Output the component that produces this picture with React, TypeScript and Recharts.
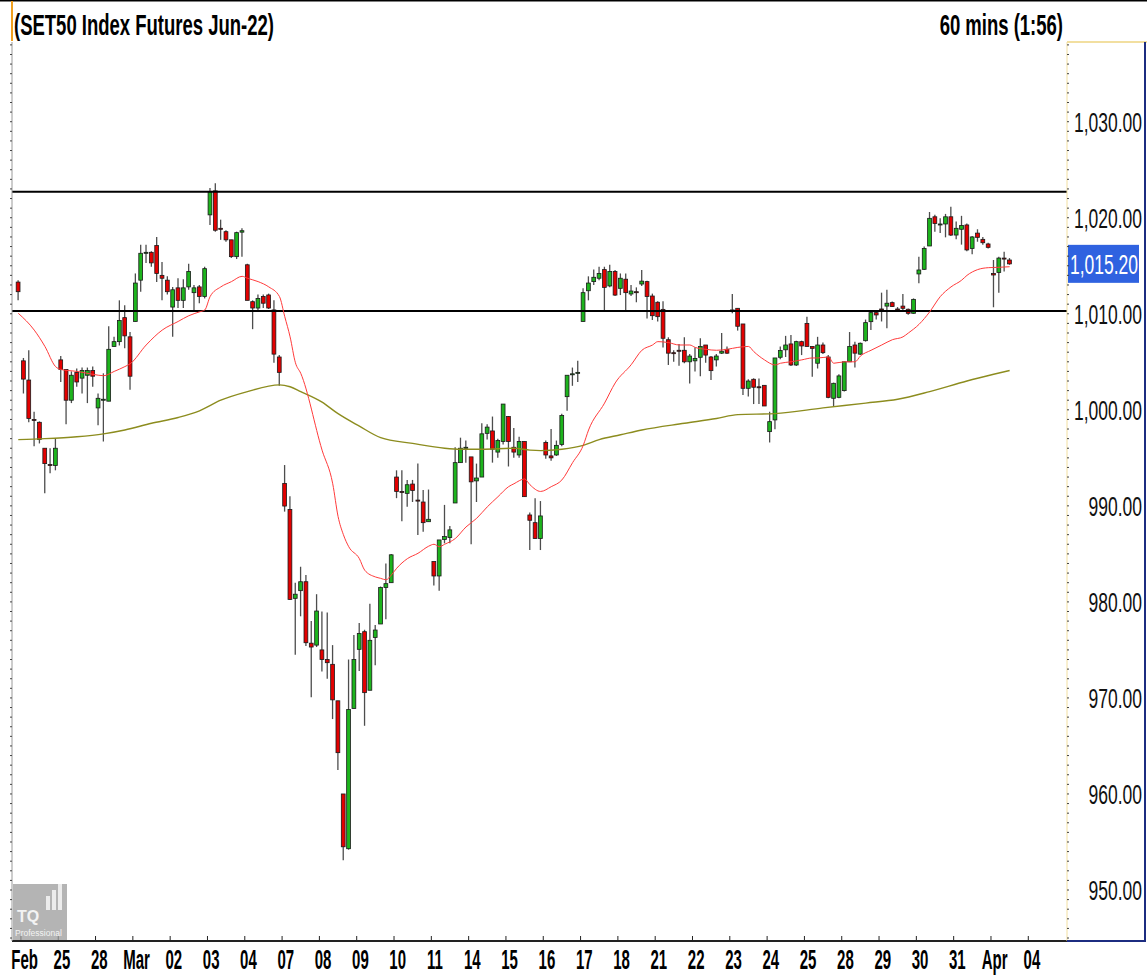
import { Bar, ComposedChart, Line, ReferenceLine, XAxis, YAxis } from "recharts";

const FONT = "'Liberation Sans', Arial, sans-serif";

// one label per trading day, 7 hourly bars per day; slot 0 is the last bar of Feb 23
const dayLabels = ["Feb", "25", "28", "Mar", "02", "03", "04", "07", "08", "09", "10", "11", "14", "15", "16", "17", "18", "21", "22", "23", "24", "25", "28", "29", "30", "31", "Apr", "04"];
const barsPerDay = 7;

const opens = [
  1013.3,
  1005.1, 1003.1, 999.0, 998.7, 996.0, 994.3, 994.2,
  1005.2, 1004.2, 1001.0, 1003.9, 1003.3, 1003.6, 1004.1,
  1000.2, 1001.0, 1000.9, 1006.6, 1007.1, 1009.6, 1007.6,
  1009.2, 1013.5, 1016.3, 1016.4, 1017.1, 1014.0, 1013.5,
  1010.7, 1012.7, 1011.4, 1012.8, 1012.2, 1012.8, 1011.8,
  1020.3, 1022.8, 1018.9, 1018.55, 1017.7, 1015.95, 1018.5,
  1015.1, 1011.26, 1010.6, 1011.8, 1011.96, 1010.4, 1005.5,
  992.34, 989.63, 980.37, 981.17, 982.1, 975.7, 975.5,
  975.0, 974.0, 973.5, 969.7, 960.0, 954.3, 968.9,
  975.06, 976.9, 970.8, 976.3, 977.7, 981.5, 982.0,
  993.0, 991.5, 991.3, 992.27, 990.6, 990.4, 988.35,
  984.2, 982.7, 986.5, 986.7, 990.3, 994.5, 996.0,
  995.1, 992.6, 993.0, 997.55, 997.8, 995.6, 996.7,
  999.3, 996.1, 995.3, 996.7, 989.05, 988.25, 986.6,
  996.6, 995.2, 995.3, 996.4, 1001.37, 1003.65, 1003.8,
  1009.2, 1012.4, 1013.35, 1013.7, 1014.6, 1012.9, 1014.4,
  1012.65, 1013.6, 1012.06, 1012.3, 1013.1, 1013.35, 1011.85,
  1011.2, 1010.46, 1007.3, 1005.95, 1006.2, 1006.2, 1005.0,
  1005.1, 1005.47, 1006.75, 1005.5, 1005.2, 1005.9, 1006.3,
  1010.4, 1010.57, 1008.94, 1002.24, 1003.18, 1002.4, 1002.55,
  997.73, 998.95, 1005.47, 1006.25, 1006.86, 1004.67, 1007.1,
  1009.0, 1006.6, 1004.85, 1006.75, 1005.5, 1001.2, 1001.3,
  1002.0, 1005.0, 1006.75, 1005.8, 1007.2, 1009.18, 1010.12,
  1010.5, 1010.8, 1011.16, 1010.5, 1010.8, 1010.47, 1010.05,
  1014.15, 1014.63, 1017.06, 1020.1, 1019.3, 1019.35, 1020.1,
  1018.2, 1018.8, 1019.25, 1016.8, 1018.4, 1017.75, 1017.27,
  1014.2, 1014.3, 1015.8, 1015.6,
];

const highs = [
  1013.5,
  1005.4, 1006.2, 999.8, 998.8, 996.0, 996.0, 997.0,
  1005.6, 1004.2, 1004.0, 1004.3, 1004.4, 1004.4, 1004.5,
  1001.7, 1003.8, 1008.7, 1007.6, 1011.4, 1010.9, 1008.1,
  1014.2, 1017.2, 1017.2, 1016.5, 1018.0, 1015.4, 1013.9,
  1012.8, 1013.7, 1013.6, 1015.2, 1013.0, 1013.0, 1014.9,
  1023.1, 1023.6, 1019.8, 1018.7, 1017.7, 1018.55, 1018.9,
  1015.2, 1011.4, 1012.0, 1012.0, 1012.1, 1011.4, 1005.7,
  994.25, 991.0, 982.0, 983.66, 982.8, 978.0, 980.8,
  979.0, 978.9, 975.5, 969.7, 960.0, 974.0, 976.55,
  977.8, 977.1, 979.8, 977.6, 981.6, 984.0, 985.0,
  993.7, 993.7, 992.7, 992.7, 994.4, 991.65, 991.7,
  984.2, 986.45, 990.1, 987.9, 996.1, 997.1, 996.8,
  995.1, 994.4, 998.6, 998.5, 999.3, 997.0, 1000.6,
  999.35, 998.1, 997.2, 996.7, 989.3, 990.8, 990.5,
  996.8, 998.0, 996.8, 999.6, 1003.6, 1004.4, 1005.1,
  1012.65, 1013.9, 1014.6, 1014.9, 1014.9, 1015.1, 1014.56,
  1014.2, 1014.2, 1013.0, 1012.75, 1014.56, 1013.45, 1012.1,
  1011.3, 1011.3, 1007.55, 1006.2, 1006.85, 1007.55, 1005.8,
  1006.5, 1007.45, 1006.75, 1005.6, 1005.8, 1008.0, 1006.6,
  1012.06, 1010.57, 1008.94, 1003.18, 1003.28, 1003.25, 1002.55,
  999.8, 1005.4, 1006.6, 1007.7, 1007.8, 1007.2, 1007.2,
  1009.7, 1006.6, 1007.6, 1007.0, 1005.7, 1002.83, 1003.7,
  1005.0, 1008.1, 1007.1, 1007.0, 1009.4, 1010.33, 1010.33,
  1012.2, 1012.5, 1011.27, 1010.7, 1012.06, 1010.54, 1011.6,
  1015.95, 1017.0, 1020.6, 1020.3, 1019.94, 1020.4, 1021.15,
  1019.6, 1020.2, 1019.4, 1018.1, 1018.8, 1018.0, 1017.4,
  1015.6, 1015.95, 1016.47, 1015.8,
];

const lows = [
  1011.4,
  1001.7, 998.7, 996.2, 996.5, 991.3, 993.4, 993.7,
  1002.9, 998.5, 1000.7, 1002.4, 1001.7, 1000.7, 1002.4,
  998.4, 996.7, 1000.9, 1006.6, 1006.7, 1006.4, 1002.1,
  1009.2, 1012.3, 1015.3, 1014.9, 1013.3, 1011.4, 1012.0,
  1007.6, 1010.6, 1010.6, 1012.5, 1010.2, 1011.1, 1011.6,
  1019.25, 1018.55, 1017.7, 1017.5, 1015.8, 1015.7, 1015.95,
  1011.4, 1008.4, 1010.3, 1010.6, 1010.5, 1004.9, 1002.5,
  989.4, 980.2, 974.5, 978.5, 975.4, 970.06, 975.3,
  972.75, 972.0, 967.8, 962.5, 953.1, 954.2, 968.9,
  972.8, 967.1, 970.8, 973.4, 977.7, 978.2, 982.0,
  990.8, 988.4, 989.9, 990.4, 986.96, 987.3, 988.35,
  981.7, 981.15, 986.1, 986.1, 990.3, 994.5, 994.5,
  986.0, 990.4, 993.0, 996.9, 994.5, 995.0, 996.4,
  994.1, 995.0, 995.0, 990.96, 985.4, 986.6, 985.4,
  994.9, 994.7, 995.2, 996.2, 999.9, 1002.5, 1002.9,
  1009.2, 1011.4, 1013.0, 1013.5, 1010.3, 1012.75, 1011.85,
  1011.95, 1010.3, 1011.85, 1011.2, 1012.9, 1009.5, 1009.35,
  1009.2, 1006.5, 1004.67, 1005.0, 1004.6, 1004.84, 1002.75,
  1004.0, 1003.5, 1004.9, 1003.1, 1004.5, 1005.8, 1005.8,
  1010.05, 1008.25, 1001.55, 1001.4, 1000.6, 1000.6, 1000.4,
  996.6, 997.97, 1005.26, 1005.5, 1004.57, 1004.57, 1005.7,
  1006.6, 1003.45, 1004.3, 1005.8, 1001.2, 1000.4, 1001.2,
  1001.9, 1005.0, 1004.4, 1005.7, 1007.1, 1008.3, 1009.4,
  1009.2, 1008.5, 1010.7, 1010.2, 1010.33, 1009.9, 1010.0,
  1013.17, 1014.56, 1017.06, 1018.55, 1018.4, 1017.96, 1018.1,
  1017.75, 1017.2, 1016.5, 1016.2, 1017.5, 1017.2, 1016.8,
  1010.68, 1012.2, 1014.4, 1015.1,
];

const closes = [
  1012.3,
  1003.2, 999.1, 998.9, 996.9, 994.4, 994.2, 996.0,
  1004.2, 1001.0, 1003.6, 1002.9, 1004.1, 1004.1, 1003.5,
  1001.2, 1001.1, 1006.3, 1007.1, 1009.3, 1007.7, 1003.5,
  1013.2, 1016.3, 1016.4, 1015.3, 1014.2, 1013.7, 1012.3,
  1012.5, 1011.4, 1012.7, 1014.4, 1012.7, 1011.8, 1014.7,
  1022.7, 1018.7, 1018.8, 1017.7, 1015.95, 1018.45, 1018.65,
  1011.4, 1010.6, 1011.6, 1011.1, 1010.6, 1005.8, 1003.9,
  989.98, 980.26, 980.8, 982.1, 975.75, 975.3, 979.05,
  974.0, 973.67, 969.8, 964.3, 954.5, 968.8, 974.0,
  976.7, 970.55, 976.0, 977.07, 981.5, 981.9, 984.9,
  991.5, 991.45, 992.2, 991.6, 990.5, 988.25, 988.6,
  982.7, 986.45, 986.8, 987.5, 994.5, 996.0, 996.1,
  992.5, 992.9, 997.5, 998.2, 995.9, 996.8, 1000.6,
  996.7, 995.6, 996.7, 990.96, 988.5, 986.6, 988.95,
  995.3, 995.0, 996.3, 999.4, 1003.6, 1003.75, 1003.9,
  1012.2, 1013.2, 1013.8, 1014.2, 1012.75, 1014.4, 1011.95,
  1013.7, 1012.2, 1012.37, 1012.2, 1013.4, 1011.8, 1009.8,
  1009.7, 1007.45, 1005.9, 1005.85, 1006.1, 1005.0, 1005.6,
  1005.35, 1006.6, 1005.7, 1004.08, 1005.6, 1006.1, 1005.9,
  1010.3, 1008.7, 1002.24, 1003.0, 1002.35, 1002.35, 1000.4,
  998.77, 1005.4, 1006.17, 1006.75, 1004.67, 1007.1, 1006.65,
  1006.6, 1006.4, 1006.75, 1005.95, 1001.3, 1002.76, 1003.53,
  1005.0, 1006.6, 1005.9, 1006.93, 1009.08, 1010.12, 1009.88,
  1010.4, 1011.1, 1010.75, 1010.4, 1010.57, 1010.05, 1011.5,
  1014.56, 1016.8, 1019.94, 1019.4, 1019.35, 1020.1, 1018.2,
  1018.9, 1019.2, 1016.65, 1018.0, 1017.96, 1017.4, 1016.92,
  1014.04, 1015.8, 1015.7, 1015.2,
];

// moving averages: [bar index, value]
const fastAverage: Array<[number, number]> = [
  [0, 1010.05], [3, 1008.3], [5, 1006.6], [7, 1004.5], [8, 1004.2], [11, 1004.0], [14, 1003.7], [16, 1003.55],
  [18, 1004.0], [20, 1004.5], [21, 1004.8], [24, 1006.75], [27, 1008.3], [30, 1009.2], [32, 1009.8], [34, 1010.2],
  [35, 1010.4], [36, 1011.8], [38, 1012.8], [40, 1013.35], [42, 1013.9], [43, 1013.7], [45, 1013.35], [47, 1012.8],
  [49, 1011.8], [50, 1009.7], [51, 1007.6], [52, 1004.9], [53, 1003.8], [57, 995.8], [59, 992.3], [60, 988.9],
  [61, 987.0], [62, 985.75], [64, 984.5], [65, 983.3], [67, 982.6], [68, 982.45], [69, 982.3], [70, 982.8],
  [71, 983.5], [73, 984.5], [75, 985.06], [77, 985.8], [78, 986.0], [79, 985.75], [80, 986.0], [82, 986.6],
  [84, 987.8], [86, 988.7], [88, 989.9], [90, 990.95], [92, 992.0], [93, 992.3], [95, 992.8], [96, 992.2],
  [98, 991.5], [100, 992.0], [102, 992.7], [104, 994.5], [106, 996.3], [107, 997.9], [110, 1000.7], [112, 1002.8],
  [115, 1004.7], [117, 1006.2], [119, 1006.75], [120, 1007.1], [122, 1007.0], [124, 1006.75], [126, 1006.75], [127, 1006.5],
  [129, 1006.3], [131, 1006.2], [133, 1006.3], [135, 1006.5], [137, 1006.6], [138, 1006.06], [140, 1005.2], [142, 1004.67],
  [143, 1004.85], [145, 1005.0], [147, 1005.2], [149, 1005.4], [150, 1005.4], [152, 1005.5], [153, 1004.85], [155, 1005.0],
  [157, 1005.0], [158, 1005.6], [160, 1006.2], [162, 1006.75], [164, 1007.3], [166, 1007.6], [167, 1008.0], [169, 1008.9],
  [171, 1010.2], [173, 1011.8], [175, 1012.8], [177, 1013.5], [178, 1014.0], [180, 1014.6], [182, 1014.8], [184, 1014.84],
  [186, 1014.9],
];

const slowAverage: Array<[number, number]> = [
  [0, 996.9], [5, 997.0], [11, 997.2], [16, 997.5], [20, 997.9], [25, 998.6], [30, 999.2], [34, 999.9],
  [38, 1001.0], [43, 1001.9], [49, 1002.6], [51, 1002.4], [53, 1001.9], [57, 1000.8], [60, 999.6], [64, 998.3],
  [68, 997.1], [74, 996.5], [80, 996.0], [83, 995.9], [87, 995.9], [93, 996.0], [96, 995.8], [98, 995.75],
  [102, 995.9], [106, 996.3], [109, 996.9], [113, 997.4], [117, 997.9], [125, 998.6], [131, 999.1], [135, 999.5],
  [142, 999.6], [151, 1000.2], [159, 1000.7], [165, 1001.1], [171, 1001.9], [178, 1003.0], [183, 1003.7], [186, 1004.1],
];

const resistance = 1022.7;
const support = 1010.3;
const priceDomain: [number, number] = [944.69, 1038.3];
const priceTicks = Array.from({ length: 94 }, (_, i) => 945 + i);
const dayStarts = dayLabels.map((_, d) => 1 + d * barsPerDay);
const totalSlots = 1 + dayLabels.length * barsPerDay;

const fastMap = new Map(fastAverage);
const slowMap = new Map(slowAverage);
const rows = Array.from({ length: totalSlots }, (_, i) => ({
  slot: i,
  open: opens[i] ?? null,
  high: highs[i] ?? null,
  low: lows[i] ?? null,
  close: closes[i] ?? null,
  range: i < opens.length ? [lows[i], highs[i]] : null,
  fast: fastMap.get(i) ?? null,
  slow: slowMap.get(i) ?? null,
}));

function Candle(props: any) {
  const { x, y, width, height, payload } = props;
  if (payload == null || payload.open == null || height == null) return null;
  const { open, close, high, low } = payload;
  const top = Math.min(y, y + height);
  const span = Math.abs(height);
  const k = span / (high - low || 1);
  const cx = x + width / 2;
  const yo = top + (high - open) * k;
  const yc = top + (high - close) * k;
  const bodyTop = Math.min(yo, yc);
  const bodyH = Math.max(Math.abs(yc - yo), 1);
  return (
    <g>
      <line x1={cx} x2={cx} y1={top} y2={top + span} stroke="#4d4d4d" strokeWidth={1.3} />
      <rect x={cx - 1.9} y={bodyTop} width={3.8} height={bodyH} fill={close >= open ? "#1db41d" : "#e30000"} stroke="#1a1a1a" strokeWidth={0.8} />
    </g>
  );
}

function DayTick(props: any) {
  const { x, y, payload } = props;
  const label = dayLabels[(payload.value - 1) / barsPerDay];
  return (
    <g>
      <line x1={x - 2.67} x2={x - 2.67} y1={y - 5} y2={y} stroke="#222" />
      <text transform={`translate(${x + 1},${y + 28}) scale(1,1.8)`} textAnchor="middle" fontFamily={FONT} fontWeight="bold" fontSize={15} fill="#000">
        {label}
      </text>
    </g>
  );
}

function PriceTick(props: any) {
  const { x, y, payload } = props;
  if (payload.value % 10 !== 0) return <g />;
  return (
    <text transform={`translate(${x + 71},${y + 10}) scale(1,1.6)`} textAnchor="end" fontFamily={FONT} fontSize={17.5} fill="#111">
      {payload.value.toLocaleString("en-US", { minimumFractionDigits: 2 })}
    </text>
  );
}

function PriceTag(props: any) {
  const { viewBox } = props;
  if (!viewBox) return null;
  const left = viewBox.x + viewBox.width + 1;
  return (
    <g>
      <rect x={left} y={viewBox.y - 19} width={71} height={38} fill="#2f62e0" />
      <text transform={`translate(${left + 36},${viewBox.y + 10}) scale(1,1.6)`} textAnchor="middle" fontFamily={FONT} fontSize={17.5} fill="#fff">
        {closes[closes.length - 1].toLocaleString("en-US", { minimumFractionDigits: 2 })}
      </text>
    </g>
  );
}

export default function App() {
  return (
    <div style={{ position: "absolute", left: 0, top: 0, width: 1147, height: 980, background: "#fff", overflow: "hidden" }}>
      <ComposedChart width={1147} height={980} data={rows} margin={{ top: 42, right: 0, bottom: 0, left: 0 }} barCategoryGap={0} barGap={0}>
        <XAxis
          dataKey="slot"
          type="category"
          ticks={dayStarts}
          interval={0}
          tick={<DayTick />}
          tickLine={false}
          tickSize={0}
          tickMargin={0}
          axisLine={{ stroke: "#222", strokeWidth: 2 }}
          height={39}
          padding={{ left: 3.6, right: 1.4 }}
        />
        <YAxis
          yAxisId="left"
          orientation="left"
          domain={priceDomain}
          allowDataOverflow
          ticks={priceTicks}
          interval={0}
          width={12}
          tick={<g />}
          tickSize={2}
          tickLine={{ stroke: "#444" }}
          axisLine={{ stroke: "#9a9a9a" }}
        />
        <YAxis
          yAxisId="right"
          orientation="right"
          domain={priceDomain}
          allowDataOverflow
          ticks={priceTicks}
          interval={0}
          width={80}
          tick={<PriceTick />}
          tickSize={2}
          tickMargin={2}
          tickLine={{ stroke: "#444" }}
          axisLine={{ stroke: "#f2dfa0" }}
        />
        <ReferenceLine yAxisId="right" y={resistance} stroke="#000" strokeWidth={2} />
        <ReferenceLine yAxisId="right" y={support} stroke="#000" strokeWidth={2} />
        <Bar yAxisId="right" dataKey="range" shape={<Candle />} isAnimationActive={false} />
        <Line yAxisId="right" dataKey="slow" type="monotone" stroke="#8c8c1e" strokeWidth={1.4} dot={false} activeDot={false} connectNulls isAnimationActive={false} />
        <Line yAxisId="right" dataKey="fast" type="monotone" stroke="#ff3b3b" strokeWidth={1} dot={false} activeDot={false} connectNulls isAnimationActive={false} />
        <ReferenceLine yAxisId="right" y={closes[closes.length - 1]} strokeOpacity={0} label={<PriceTag />} />
      </ComposedChart>
      <svg width={1147} height={980} style={{ position: "absolute", left: 0, top: 0, pointerEvents: "none" }}>
        <line x1={0} x2={1147} y1={0.5} y2={0.5} stroke="#000" strokeWidth={2} />
        <rect x={11} y={1} width={2} height={40} fill="#f0a020" />
        <text transform="translate(14,35) scale(1,1.6)" fontFamily={FONT} fontWeight="bold" fontSize={18.5} fill="#000">
          (SET50 Index Futures Jun-22)
        </text>
        <text transform="translate(1063,35) scale(1,1.6)" textAnchor="end" fontFamily={FONT} fontWeight="bold" fontSize={18.5} fill="#000">
          60 mins (1:56)
        </text>
        <line x1={1067} x2={1147} y1={42} y2={42} stroke="#f2dfa0" strokeWidth={2} />
        <line x1={1145} x2={1145} y1={42} y2={941} stroke="#1c2c80" strokeWidth={2} />
        <line x1={1067} x2={1146} y1={941} y2={941} stroke="#1c2c80" strokeWidth={2} />
        <g opacity={0.75}>
          <rect x={13} y={884} width={54} height={56} fill="#9c9c9c" />
          <rect x={46} y={896} width={4} height={14} fill="#e6e6e6" />
          <rect x={52} y={890} width={4} height={20} fill="#e6e6e6" />
          <rect x={58} y={884} width={4} height={26} fill="#e6e6e6" />
          <text x={17} y={922} fontFamily={FONT} fontWeight="bold" fontSize={16} fill="#f0f0f0">TQ</text>
          <text x={15} y={936} fontFamily={FONT} fontSize={8.5} fill="#f0f0f0">Professional</text>
        </g>
      </svg>
    </div>
  );
}
